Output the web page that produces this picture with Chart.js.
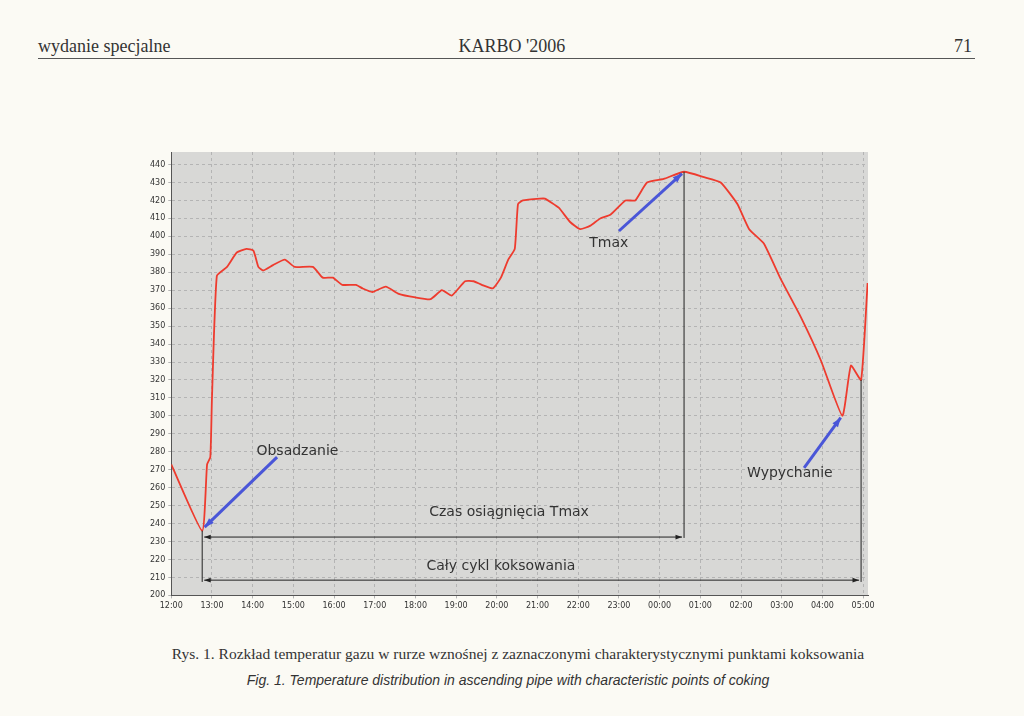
<!DOCTYPE html>
<html><head><meta charset="utf-8">
<script src="https://cdn.jsdelivr.net/npm/chart.js@4"></script>
<style>
body{margin:0;background:#fbfaf4;width:1024px;height:716px;position:relative;overflow:hidden;font-family:"Liberation Serif",serif;color:#333}
.h{position:absolute;top:36px;font-size:18px}
#wrap{position:absolute;left:147px;top:142px;width:733px;height:472px}
.cap{position:absolute;width:1024px;text-align:center}
</style></head><body>
<div class="h" style="left:38px">wydanie specjalne</div>
<div class="h" style="left:0;width:1024px;text-align:center">KARBO '2006</div>
<div class="h" style="left:954px">71</div>
<div style="position:absolute;left:38px;top:58px;width:937px;border-top:1px solid #555"></div>
<div id="wrap"><canvas id="c"></canvas></div>
<div class="cap" style="top:645px;font-size:15.5px;left:6px">Rys. 1. Rozkład temperatur gazu w rurze wznośnej z zaznaczonymi charakterystycznymi punktami koksowania</div>
<div class="cap" style="top:672px;font-size:14px;font-style:italic;font-family:'Liberation Sans',sans-serif;left:-4px">Fig. 1. Temperature distribution in ascending pipe with characteristic points of coking</div>
<script>
const hours = [0,0.76,0.88,0.96,1.0,1.12,1.37,1.61,1.85,2.02,2.14,2.26,2.5,2.79,3.03,3.48,3.72,3.97,4.2,4.54,4.7,4.94,5.27,5.59,6.0,6.37,6.65,6.89,7.22,7.43,7.63,7.9,8.1,8.28,8.44,8.52,8.64,9.06,9.18,9.52,9.8,10.05,10.3,10.54,10.79,11.16,11.4,11.69,12.1,12.6,13.09,13.5,13.91,14.2,14.56,14.98,15.47,15.96,16.49,16.7,16.95,17.11];
const temps = [273,236,273,277,310,378,383,391,393,392,383,381,384,387,383,383,377,377,373,373,371,369,372,368,366,365,370,367,375,375,373,371,377,387,393,418,420,421,421,416,408,404,406,410,412,420,420,430,432,436,433,430,418,404,396,376,355,331,300,328,320,374];
const timeLabels = ["12:00","13:00","14:00","15:00","16:00","17:00","18:00","19:00","20:00","21:00","22:00","23:00","00:00","01:00","02:00","03:00","04:00","05:00"];
const markerH = [0.76,12.6,16.95];      // Obsadzanie, Tmax, end of cycle
const markerT = [236,436,320];
const arrowLevels = [232.5,208.5];
const labels = [
 {t:"Obsadzanie",h:3.1,v:280},{t:"Tmax",h:10.75,v:396},{t:"Wypychanie",h:15.2,v:268},
 {t:"Czas osiągnięcia Tmax",h:8.3,v:246},{t:"Cały cykl koksowania",h:8.1,v:216}];
const blueArrows = [[2.6,277,0.82,238],[11.0,403,12.55,435],[15.55,271,16.45,299]];

function arrowHead(ctx,x1,y1,x2,y2,s){const a=Math.atan2(y2-y1,x2-x1);ctx.beginPath();ctx.moveTo(x2,y2);ctx.lineTo(x2-s*Math.cos(a-0.35),y2-s*Math.sin(a-0.35));ctx.lineTo(x2-s*Math.cos(a+0.35),y2-s*Math.sin(a+0.35));ctx.closePath();ctx.fill();}
const deco={id:'deco',
 beforeDraw(ch){const a=ch.chartArea,c=ch.ctx;c.save();c.fillStyle='#d8d8d6';c.fillRect(a.left,a.top,a.right-a.left,a.bottom-a.top);c.restore();},
 afterDatasetsDraw(ch){const c=ch.ctx,x=ch.scales.x,y=ch.scales.y;c.save();
  c.strokeStyle='#222';c.fillStyle='#222';c.lineWidth=1;
  const lo=arrowLevels[1]-1;
  markerH.forEach((h,i)=>{c.beginPath();c.moveTo(x.getPixelForValue(h),y.getPixelForValue(markerT[i]));c.lineTo(x.getPixelForValue(h),y.getPixelForValue(i==1?arrowLevels[0]-0.5:lo));c.stroke();});
  [[0,1,0],[0,2,1]].forEach(([a,b,l])=>{const x1=x.getPixelForValue(markerH[a])+2,x2=x.getPixelForValue(markerH[b])-2,yy=y.getPixelForValue(arrowLevels[l]);c.beginPath();c.moveTo(x1,yy);c.lineTo(x2,yy);c.stroke();arrowHead(c,x2,yy,x1,yy,7);arrowHead(c,x1,yy,x2,yy,7);});
  c.strokeStyle='#4a56d8';c.fillStyle='#4a56d8';c.lineWidth=3;
  blueArrows.forEach(b=>{const x1=x.getPixelForValue(b[0]),y1=y.getPixelForValue(b[1]),x2=x.getPixelForValue(b[2]),y2=y.getPixelForValue(b[3]);c.beginPath();c.moveTo(x1,y1);c.lineTo(x2,y2);c.stroke();arrowHead(c,x1,y1,x2,y2,10);});
  c.fillStyle='#333';c.font='14px "DejaVu Sans"';c.textAlign='center';c.textBaseline='middle';
  labels.forEach(l=>c.fillText(l.t,x.getPixelForValue(l.h),y.getPixelForValue(l.v)));
  c.restore();}};
new Chart(document.getElementById('c'),{type:'line',
 data:{datasets:[{data:hours.map((h,i)=>({x:h,y:temps[i]})),borderColor:'#ee3b2e',borderWidth:1.8,pointRadius:0,tension:0.15}]},
 options:{responsive:true,maintainAspectRatio:false,animation:false,
  layout:{padding:{left:0,right:12,top:10,bottom:0}},
  plugins:{legend:{display:false},tooltip:{enabled:false}},
  scales:{
   x:{type:'linear',min:0,max:17.12,afterBuildTicks:s=>{s.ticks=timeLabels.map((_,i)=>({value:i})).filter(t=>t.value<=17)},
      ticks:{callback:v=>timeLabels[v]||'',font:{size:8,family:'DejaVu Sans'},color:'#333',maxRotation:0,autoSkip:false},
      grid:{color:'#b4b4b4',tickLength:3},border:{color:'#555',dash:[3,3]}},
   y:{min:200,max:447,afterBuildTicks:s=>{const t=[];for(let v=200;v<=440;v+=10)t.push({value:v});s.ticks=t;},
      ticks:{font:{size:8,family:'DejaVu Sans'},color:'#333'},
      grid:{color:'#b4b4b4',tickLength:3},border:{color:'#555',dash:[3,3]}}}}
 ,plugins:[deco]});
</script></body></html>
